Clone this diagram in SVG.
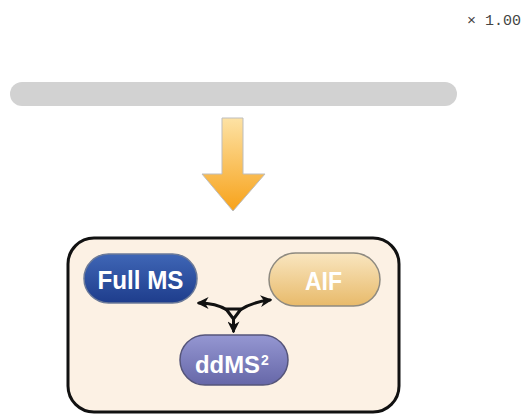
<svg xmlns="http://www.w3.org/2000/svg" width="523" height="414" viewBox="0 0 523 414">
<defs>
<style>
.lbl{font-family:"Liberation Sans Narrow","Liberation Sans",Arial,sans-serif;font-weight:bold;fill:#ffffff;}
.conn{fill:none;stroke:#111;stroke-width:3;stroke-linecap:round;}
</style>
<linearGradient id="gArrow" x1="0" y1="0" x2="0" y2="1">
<stop offset="0" stop-color="#fde2a4"/>
<stop offset="1" stop-color="#f7a21a"/>
</linearGradient>
<linearGradient id="gBlue" x1="0" y1="0" x2="0" y2="1">
<stop offset="0" stop-color="#3f66b6"/>
<stop offset="1" stop-color="#1e3d8c"/>
</linearGradient>
<linearGradient id="gTan" x1="0" y1="0" x2="0" y2="1">
<stop offset="0" stop-color="#f9e6c0"/>
<stop offset="1" stop-color="#e8ba6a"/>
</linearGradient>
<linearGradient id="gPurple" x1="0" y1="0" x2="0" y2="1">
<stop offset="0" stop-color="#9597d2"/>
<stop offset="1" stop-color="#6667a8"/>
</linearGradient>
<marker id="ah" viewBox="0 0 10 10" refX="8" refY="5" markerWidth="4" markerHeight="4" orient="auto" markerUnits="strokeWidth">
<path d="M0,0 L10,5 L0,10 L3,5 Z" fill="#111"/>
</marker>
</defs>
<rect width="523" height="414" fill="#ffffff"/>
<text x="467" y="25" font-family="Liberation Mono, monospace" font-size="15" fill="#444">× 1.00</text>
<rect id="bar" x="10" y="82" width="447" height="24" rx="12" fill="#d2d2d2"/>
<g id="bigArrow">
<path d="M222,118 L243,118 L243,174 L265,174 L233,211 L202,174 L222,174 Z" fill="url(#gArrow)" stroke="#bdbdbd" stroke-width="1"/>
</g>
<g id="box">
<rect x="68" y="238" width="331" height="174" rx="26" fill="#fcf1e4" stroke="#111" stroke-width="3"/>
</g>
<g id="fullms">
<rect x="84" y="254" width="113" height="49" rx="24.5" fill="url(#gBlue)" stroke="#6b7a99" stroke-width="1.5"/>
<text class="lbl" x="140.5" y="289" font-size="25" text-anchor="middle" textLength="86" lengthAdjust="spacingAndGlyphs">Full MS</text>
</g>
<g id="aif">
<rect x="269" y="253" width="111" height="53" rx="26.5" fill="url(#gTan)" stroke="#8e8a80" stroke-width="1.5"/>
<text class="lbl" x="323.5" y="290" font-size="25" text-anchor="middle" textLength="37" lengthAdjust="spacingAndGlyphs">AIF</text>
</g>
<g id="ddms2">
<rect x="180" y="335" width="108" height="50" rx="25" fill="url(#gPurple)" stroke="#55557a" stroke-width="1.5"/>
<text class="lbl" x="195" y="373" font-size="23" textLength="65" lengthAdjust="spacingAndGlyphs">ddMS</text>
<text class="lbl" x="261" y="365" font-size="14">2</text>
</g>
<g id="connectors">
<path class="conn" d="M227,310 Q216,303 199,303" marker-end="url(#ah)"/>
<path class="conn" d="M240,310 Q252,302 270,300" marker-end="url(#ah)"/>
<path class="conn" d="M226,309 L241,309 L233.5,319 Z" stroke-linejoin="round" stroke-width="3.5"/>
<path class="conn" d="M233.5,319 L233.5,331" marker-end="url(#ah)"/>
</g>
</svg>
